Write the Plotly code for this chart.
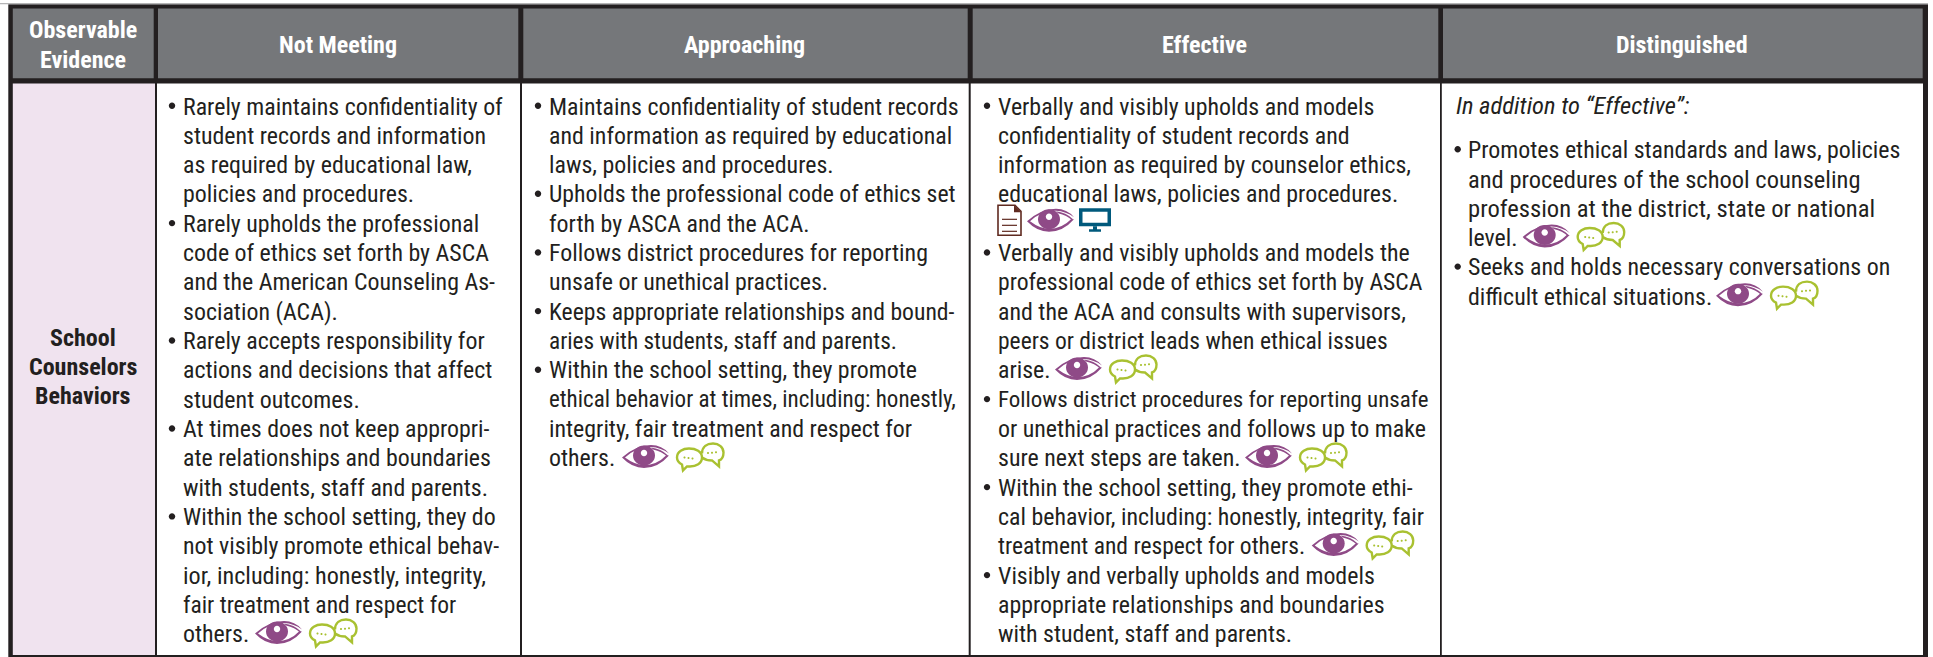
import plotly.graph_objects as go

W, H = 1933, 657
FONT = "Roboto Condensed"
INK = "#231f20"
HEAD_FILL = "#75777a"
PINK = "#f0e3ef"

headers = ["Not Meeting", "Approaching", "Effective", "Distinguished"]
corner = ["Observable", "Evidence"]
row_label = ["School", "Counselors", "Behaviors"]

# Each entry: (bullet?, text, icons on that line)
not_meeting = [
    (1, "Rarely maintains confidentiality of", ""), (0, "student records and information", ""),
    (0, "as required by educational law,", ""), (0, "policies and procedures.", ""),
    (1, "Rarely upholds the professional", ""), (0, "code of ethics set forth by ASCA", ""),
    (0, "and the American Counseling As-", ""), (0, "sociation (ACA).", ""),
    (1, "Rarely accepts responsibility for", ""), (0, "actions and decisions that affect", ""),
    (0, "student outcomes.", ""), (1, "At times does not keep appropri-", ""),
    (0, "ate relationships and boundaries", ""), (0, "with students, staff and parents.", ""),
    (1, "Within the school setting, they do", ""), (0, "not visibly promote ethical behav-", ""),
    (0, "ior, including: honestly, integrity,", ""), (0, "fair treatment and respect for", ""),
    (0, "others.", "eb"),
]
approaching = [
    (1, "Maintains confidentiality of student records", ""), (0, "and information as required by educational", ""),
    (0, "laws, policies and procedures.", ""), (1, "Upholds the professional code of ethics set", ""),
    (0, "forth by ASCA and the ACA.", ""), (1, "Follows district procedures for reporting", ""),
    (0, "unsafe or unethical practices.", ""), (1, "Keeps appropriate relationships and bound-", ""),
    (0, "aries with students, staff and parents.", ""), (1, "Within the school setting, they promote", ""),
    (0, "ethical behavior at times, including: honestly,", ""), (0, "integrity, fair treatment and respect for", ""),
    (0, "others.", "eb"),
]
effective = [
    (1, "Verbally and visibly upholds and models", ""), (0, "confidentiality of student records and", ""),
    (0, "information as required by counselor ethics,", ""), (0, "educational laws, policies and procedures.", ""),
    (0, "", "dem"), (1, "Verbally and visibly upholds and models the", ""),
    (0, "professional code of ethics set forth by ASCA", ""), (0, "and the ACA and consults with supervisors,", ""),
    (0, "peers or district leads when ethical issues", ""), (0, "arise.", "eb"),
    (1, "Follows district procedures for reporting unsafe", ""), (0, "or unethical practices and follows up to make", ""),
    (0, "sure next steps are taken.", "eb"), (1, "Within the school setting, they promote ethi-", ""),
    (0, "cal behavior, including: honestly, integrity, fair", ""), (0, "treatment and respect for others.", "eb"),
    (1, "Visibly and verbally upholds and models", ""), (0, "appropriate relationships and boundaries", ""),
    (0, "with student, staff and parents.", ""),
]
distinguished_intro = "In addition to “Effective”:"
distinguished = [
    (1, "Promotes ethical standards and laws, policies", ""), (0, "and procedures of the school counseling", ""),
    (0, "profession at the district, state or national", ""), (0, "level.", "eb"),
    (1, "Seeks and holds necessary conversations on", ""), (0, "difficult ethical situations.", "eb"),
]
# icon start x (pixels) for the lines that carry icons, in reading order per column
icon_x = {"nm": [255], "ap": [622], "ef": [997, 1055, 1245, 1311.7], "di": [1522.7, 1716]}

# the substitute font sets a few lines wider or narrower than the original; per-line size trim
TRIM = {
    "Upholds the professional code of ethics set": 0.995,
    "ethical behavior at times, including: honestly,": 0.965,
    "aries with students, staff and parents.": 0.975,
    "Keeps appropriate relationships and bound-": 0.99,
    "Follows district procedures for reporting unsafe": 0.96,
    "treatment and respect for others.": 0.985,
    "professional code of ethics set forth by ASCA": 0.99,
    "peers or district leads when ethical issues": 0.985,
    "and procedures of the school counseling": 1.025,
    "profession at the district, state or national": 1.03,
    "In addition to “Effective”:": 1.027,
    "fair treatment and respect for": 0.985,
    "ior, including: honestly, integrity,": 1.012,
}

FS = 23.9
PITCH = 29.33
BODY_Y = 106.5
TEXT_DX = -1

shapes, ann = [], []

def rect(x0, y0, x1, y1, fill):
    shapes.append(dict(type="rect", x0=x0, y0=y0, x1=x1, y1=y1, fillcolor=fill, line_width=0, layer="below"))

def text(x, y, s, size=FS, anchor="left", color=INK, bold=False, italic=False):
    ann.append(dict(x=x, y=y, text=s, xref="x", yref="y", showarrow=False, xanchor=anchor, yanchor="middle",
                    borderpad=0, font=dict(family=FONT, size=round(size * TRIM.get(s, 1), 2), color=color,
                                           weight=700 if bold else 400,
                                           style="italic" if italic else "normal")))

def path(d, fill=None, line=None, w=1.0):
    s = dict(type="path", path=d, layer="above")
    s["fillcolor"] = fill or "rgba(0,0,0,0)"
    s["line"] = dict(color=line or "rgba(0,0,0,0)", width=w if line else 0)
    shapes.append(s)

def ell(cx, cy, rx, ry):
    k = 0.5523
    return (f"M{cx-rx},{cy} C{cx-rx},{cy-k*ry} {cx-k*rx},{cy-ry} {cx},{cy-ry} "
            f"C{cx+k*rx},{cy-ry} {cx+rx},{cy-k*ry} {cx+rx},{cy} "
            f"C{cx+rx},{cy+k*ry} {cx+k*rx},{cy+ry} {cx},{cy+ry} "
            f"C{cx-k*rx},{cy+ry} {cx-rx},{cy+k*ry} {cx-rx},{cy} Z")

PURPLE = "#8f4a87"
GREEN = "#a9c131"
TEAL = "#00597c"
BROWN = "#5f2a20"

def eye(x, y):
    # x = left tip, y = vertical centre; width 47, height 23
    path(f"M{x},{y+1} Q{x+14},{y-11.5} {x+29},{y-11.5} Q{x+40},{y-11.5} {x+47},{y-3} "
         f"Q{x+39},{y-9} {x+29},{y-9.5} Q{x+15},{y-10} {x+3},{y+1} Q{x+13},{y+8.5} {x+22},{y+8.5} "
         f"Q{x+35},{y+8.5} {x+44},{y-1} L{x+47},{y-1} Q{x+36},{y+11.5} {x+22},{y+11.5} Q{x+10},{y+11.5} {x},{y+1} Z", fill=PURPLE)
    path(f"M{x+29},{y-9} Q{x+39},{y-8} {x+46},{y-1} L{x+45},{y} Q{x+40},{y-5} {x+31},{y-7} Z", fill=PURPLE)
    path(ell(x + 22, y - 1, 11, 10), fill=PURPLE)
    path(ell(x + 22, y - 3.5, 3.2, 3.2), fill="#ffffff")

def bubbles(x, y):
    path(f"M{x+6},{y+8} C{x+2},{y+6} {x+1},{y+3} {x+1},{y+1} C{x+1},{y-5} {x+7},{y-8} {x+13},{y-8} "
         f"C{x+20},{y-8} {x+26},{y-5} {x+26},{y+1} C{x+26},{y+7} {x+20},{y+10} {x+14},{y+10} L{x+11},{y+10} L{x+7},{y+14} Z",
         line=GREEN, w=2.4)
    path(f"M{x+26},{y-3} C{x+26},{y-10} {x+31},{y-13} {x+37},{y-13} C{x+43},{y-13} {x+47.5},{y-9} {x+47.5},{y-4} "
         f"C{x+47.5},{y} {x+46},{y+3} {x+43},{y+4} L{x+43},{y+10} L{x+36},{y+4} Q{x+30},{y+4} {x+26},{y+1}",
         line=GREEN, w=2.4)
    for dx, dy in [(8.5, 1), (12.5, 1.6), (16.5, 2), (32, -3.5), (36, -3.8), (40, -4.2)]:
        path(ell(x + dx, y + dy, 1.0, 1.0), fill=GREEN)

def doc(x, y):
    path(f"M{x+1},{y-15} L{x+18},{y-15} L{x+24},{y-9} L{x+24},{y+15} L{x+1},{y+15} Z", fill="#ffffff", line=BROWN, w=1.6)
    path(f"M{x+17},{y-15} L{x+24},{y-8} L{x+17},{y-8} Z", fill=BROWN)
    for dy in [-1, 5, 11]:
        path(f"M{x+5},{y+dy} L{x+20},{y+dy}", line=BROWN, w=1.2)

def monitor(x, y):
    path(f"M{x},{y-12} L{x+32},{y-12} L{x+32},{y+6} L{x},{y+6} Z M{x+3.5},{y-8.5} L{x+3.5},{y+2.5} L{x+28.5},{y+2.5} L{x+28.5},{y-8.5} Z", fill=TEAL)
    path(f"M{x+14},{y+6} L{x+18},{y+6} L{x+18},{y+9} L{x+22},{y+9} L{x+22},{y+11.5} L{x+10},{y+11.5} L{x+10},{y+9} L{x+14},{y+9} Z", fill=TEAL)

ICON = {"e": (eye, 47), "b": (bubbles, 47), "d": (doc, 25), "m": (monitor, 32)}
GAP = {"e": 7, "b": 8, "d": 5, "m": 0}

def draw_icons(x, y, codes):
    up = 3.5 if "d" in codes else 2
    for c in codes:
        f, w = ICON[c]
        f(x, y - up)
        gap = 5 if (c == "e" and "m" in codes) else GAP[c]
        x += w + gap

def column(lines, bullet_x, text_x, y0, starts):
    it = iter(starts)
    for i, (b, s, icons) in enumerate(lines):
        y = y0 + i * PITCH
        if b:
            path(ell(bullet_x, y - 0.7, 3.2, 3.2), fill=INK)
        if s:
            text(text_x + TEXT_DX, y, s)
        if icons:
            draw_icons(next(it), y, icons)

# grid
rect(8.3, 4.2, 1928, 657, INK)
rect(0, 3, 1928, 4.2, "#b5b5b6")
for x0, x1 in [(12.8, 153.7), (158, 518.3), (523.3, 967.7), (972.7, 1438.3), (1443, 1922.7)]:
    rect(x0, 8.4, x1, 78.2, HEAD_FILL)
rect(12.8, 83.6, 155, 655, PINK)
for x0, x1 in [(157, 520), (522, 968.7), (970.7, 1440), (1441.8, 1923)]:
    rect(x0, 83.6, x1, 655, "#ffffff")

HY = 45
for s, cx in zip(headers, [338, 744.5, 1204.5, 1682]):
    text(cx, HY, s, size=24, anchor="center", color="#ffffff", bold=True)
for i, s in enumerate(corner):
    text(83, 30 + i * 30, s, size=24, anchor="center", color="#ffffff", bold=True)
for i, s in enumerate(row_label):
    text(83, 338 + i * 29, s, size=24, anchor="center", bold=True)

column(not_meeting, 172, 183.4, BODY_Y, icon_x["nm"])
column(approaching, 538, 549.3, BODY_Y, icon_x["ap"])
column(effective, 987, 997.7, BODY_Y, icon_x["ef"])
text(1455.7 + TEXT_DX, 105, distinguished_intro, italic=True)
column(distinguished, 1457.7, 1468.3, 150, icon_x["di"])

fig = go.Figure()
fig.update_layout(
    width=W, height=H, margin=dict(l=0, r=0, t=0, b=0), autosize=False,
    paper_bgcolor="#ffffff", plot_bgcolor="#ffffff", showlegend=False,
    xaxis=dict(range=[0, W], visible=False, fixedrange=True),
    yaxis=dict(range=[H, 0], visible=False, fixedrange=True),
    shapes=shapes, annotations=ann,
)
fig.write_html("out.html", config={"displayModeBar": False},
               post_script="document.body.style.margin='0';document.documentElement.style.overflow='hidden';")
